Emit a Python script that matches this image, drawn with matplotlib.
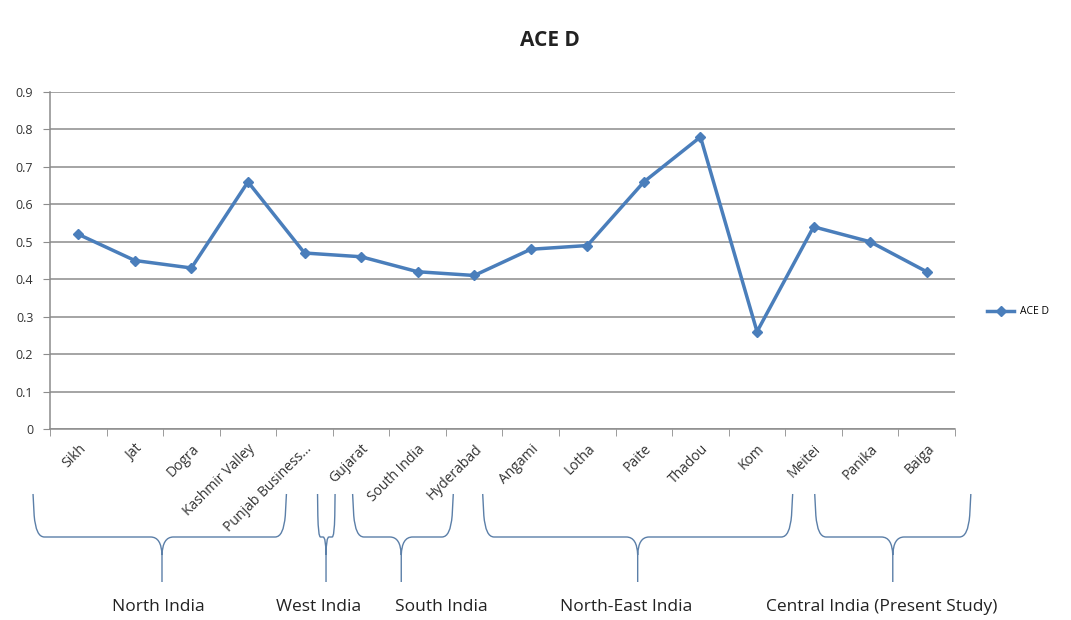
import matplotlib
matplotlib.use("Agg")
import matplotlib.pyplot as plt
from matplotlib.path import Path
from matplotlib.patches import PathPatch
from matplotlib.transforms import blended_transform_factory

# ---- data ----
categories = ["Sikh", "Jat", "Dogra", "Kashmir Valley", "Punjab Business...",
              "Gujarat", "South India", "Hyderabad", "Angami", "Lotha",
              "Paite", "Thadou", "Kom", "Meitei", "Panika", "Baiga"]
ace_d = [0.52, 0.45, 0.43, 0.66, 0.47, 0.46, 0.42, 0.41,
         0.48, 0.49, 0.66, 0.78, 0.26, 0.54, 0.50, 0.42]
y_ticks = [0, 0.1, 0.2, 0.3, 0.4, 0.5, 0.6, 0.7, 0.8, 0.9]
y_tick_labels = ["0", "0.1", "0.2", "0.3", "0.4", "0.5", "0.6", "0.7", "0.8", "0.9"]
regions = ["North India", "West India", "South India", "North-East India",
           "Central India (Present Study)"]

# brace extents (data x units): left, right, centre ; label centre
brace_x = [(-0.80, 3.68, 1.48), (4.23, 4.54, 4.38), (4.85, 6.63, 5.71),
           (7.15, 12.63, 9.89), (13.02, 15.78, 14.40)]
label_x = [1.41, 4.24, 6.42, 9.69, 14.21]

plt.rcParams['font.family'] = ['Open Sans', 'DejaVu Sans']

fig = plt.figure(figsize=(10.71, 6.20), dpi=100)
ax = fig.add_axes([50/1071, 1-429/620, (955-50)/1071, (429-92)/620])

line_color = "#4A7EBB"
x = list(range(len(categories)))
ax.plot(x, ace_d, color=line_color, lw=2.5, marker="D", ms=5.5,
        label="ACE D", zorder=3)

ax.set_xlim(-0.5, len(categories) - 0.5)
ax.set_ylim(0, 0.9)
ax.set_yticks(y_ticks)
ax.set_yticklabels(y_tick_labels, fontsize=9, color="#333333")
ax.yaxis.grid(True, color="#8c8c8c", lw=1.1)
ax.set_axisbelow(True)

ax.set_xticks(x)
ax.set_xticklabels(categories, rotation=45, ha="right", rotation_mode="anchor",
                   fontsize=10, color="#333333")
ax.tick_params(axis="x", which="major", length=0, pad=9)
ax.set_xticks([i - 0.5 for i in range(len(categories) + 1)], minor=True)
ax.tick_params(axis="x", which="minor", length=5, color="#8c8c8c", direction="out")
ax.tick_params(axis="y", length=5, color="#8c8c8c", direction="out", pad=7)

for s in ["top", "right"]:
    ax.spines[s].set_visible(False)
for s in ["left", "bottom"]:
    ax.spines[s].set_color("#8c8c8c")
    ax.spines[s].set_linewidth(1.1)

fig.text(550/1071, 1-40/620, "ACE D", ha="center", va="center",
         fontsize=15, fontweight="bold", color="#222222")

fig.legend(loc="center left", bbox_to_anchor=(978/1071, 1-312/620),
           frameon=False, fontsize=7.5, handlelength=2.6, handletextpad=0.5)

# braces
tr = blended_transform_factory(ax.transData, fig.transFigure)
top = 1 - 494/620
bottom = 1 - 537/620
neck = 1 - 555/620
tip = 1 - 582/620
mid = (top + bottom) / 2
brace_color = "#5b7fa8"
for (x0, x1, xc) in brace_x:
    r = min(0.2, (x1 - x0) / 6)
    verts = [(x0, top), (x0 + r * 0.1, mid), (x0 + r * 0.25, bottom), (x0 + r, bottom),
             (xc - r, bottom), (xc - r * 0.05, bottom), (xc, neck), (xc, tip),
             (xc, neck), (xc + r * 0.05, bottom), (xc + r, bottom),
             (x1 - r, bottom), (x1 - r * 0.25, bottom), (x1 - r * 0.1, mid), (x1, top)]
    codes = [Path.MOVETO, Path.LINETO, Path.CURVE3, Path.CURVE3,
             Path.LINETO, Path.CURVE3, Path.CURVE3, Path.LINETO,
             Path.MOVETO, Path.CURVE3, Path.CURVE3,
             Path.LINETO, Path.CURVE3, Path.CURVE3, Path.LINETO]
    p = PathPatch(Path(verts, codes), transform=tr, fill=False,
                  edgecolor=brace_color, lw=1.0, clip_on=False)
    fig.add_artist(p)

for name, lx in zip(regions, label_x):
    fig.text(lx, 1 - 607/620, name, transform=tr, ha="center", va="center",
             fontsize=12.5, color="#222222")

fig.savefig("out.png", dpi=100)
